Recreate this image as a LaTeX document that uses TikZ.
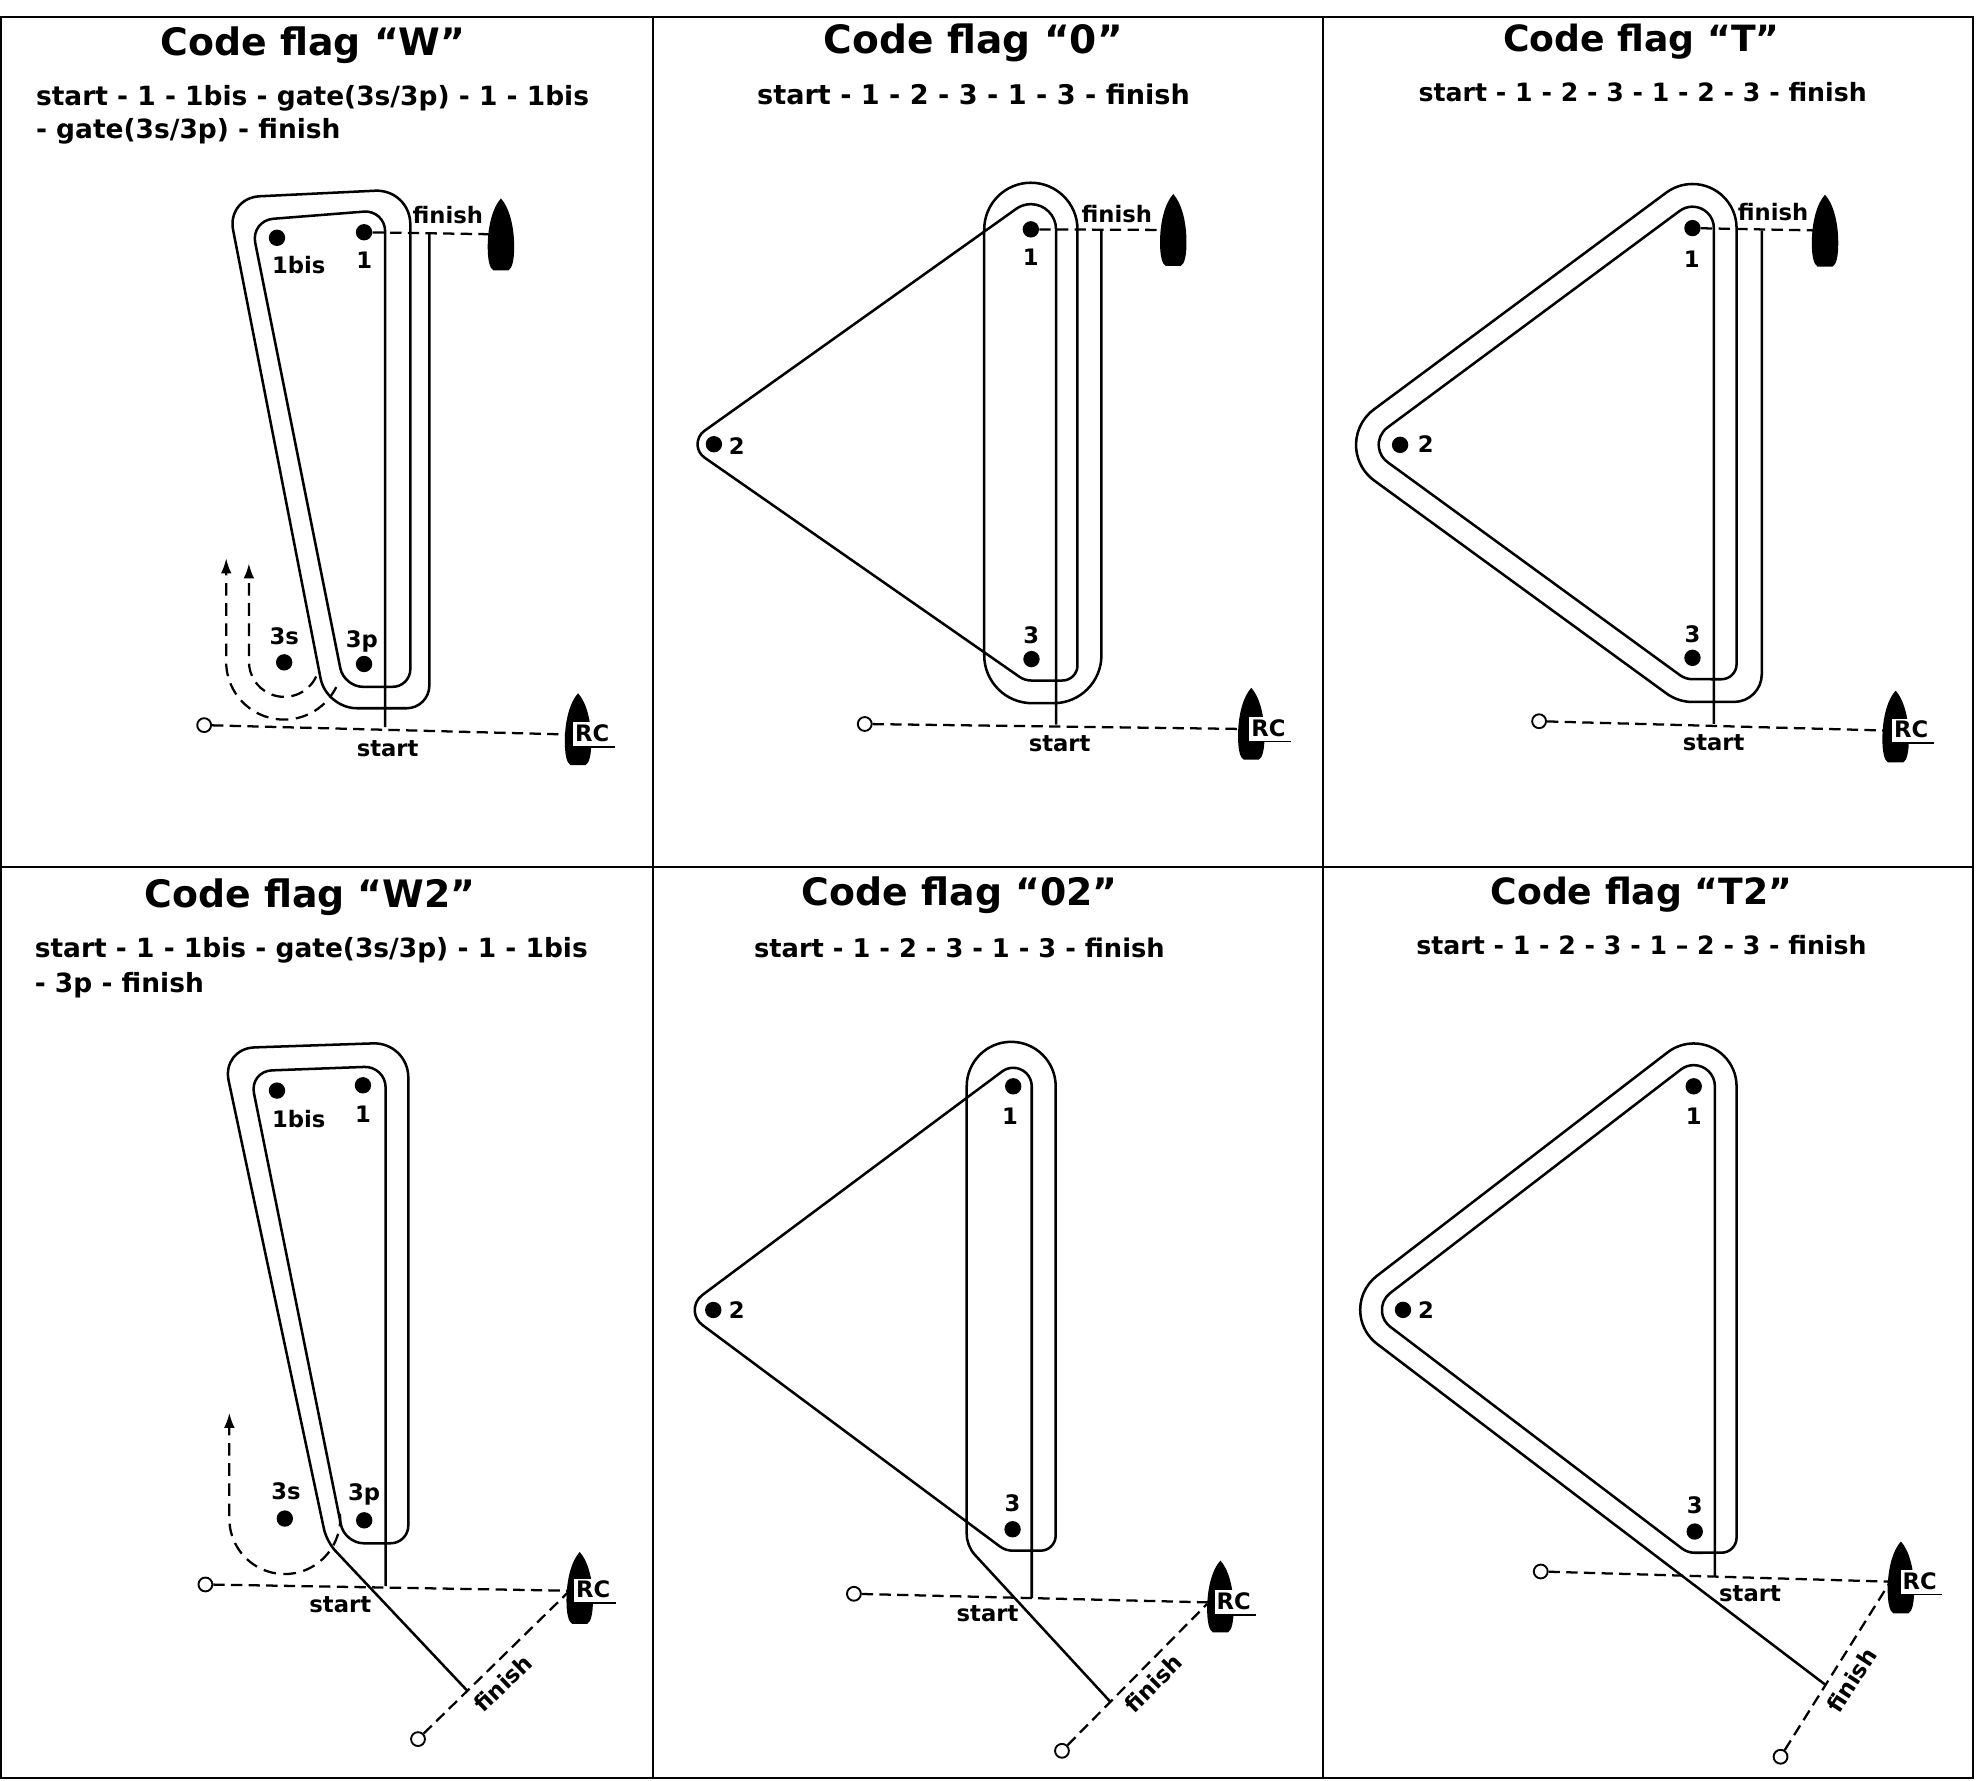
\documentclass[tikz,border=0pt]{standalone}
\usepackage{fontspec}
\setmainfont{DejaVu Sans}
\usetikzlibrary{arrows.meta}
\begin{document}
\begin{tikzpicture}[x=1pt,y=-1pt,>={Latex[length=12pt,width=8.5pt]},
	course/.style={line width=2pt},
	dashline/.style={line width=1.8pt,dash pattern=on 9pt off 5pt},
	gate/.style={line width=1.8pt,dash pattern=on 10pt off 6pt},
	markdot/.style={circle,fill,inner sep=0pt,minimum size=13pt},
	buoy/.style={circle,draw,line width=1.5pt,fill=white,inner sep=0pt,minimum size=11pt},
	ttl/.style={font=\fontsize{#1}{#1}\selectfont\bfseries,anchor=base,inner sep=0pt},
	ttl/.default=30,
	seq/.style={font=\fontsize{#1}{#1}\selectfont\bfseries,inner sep=0pt},
	seq/.default=20,
	lbl/.style={font=\fontsize{18}{22}\selectfont\bfseries,anchor=base,inner sep=0pt},
	rc/.style={lbl,fill=white,inner sep=2pt,text depth=2pt,anchor=base west},
	boat/.pic={\fill (0,-28.5) .. controls (6,-22) and (10.5,-8) .. (10.5,10) .. controls (10.5,20) and (9,27) .. (6,28.5) -- (-6,28.5) .. controls (-9,27) and (-10.5,20) .. (-10.5,10) .. controls (-10.5,-8) and (-6,-22) .. (0,-28.5) -- cycle;}]
	\useasboundingbox (0,0) rectangle (1568,1413);
	\draw[line width=1.3pt] (1,13.5) rectangle (1565.5,1411);
	\draw[line width=1.3pt] (518,13.5) -- (518,1411);
	\draw[line width=1.3pt] (1050,13.5) -- (1050,1411);
	\draw[line width=1.3pt] (1,688) -- (1565.5,688);
	%
	\node[ttl] (tW) at (248.5,44.1) {Code flag “W”};
	\node[seq=21,anchor=base west] (s1W) at (28.4,83.8) {start - 1 - 1bis - gate(3s/3p) - 1 - 1bis};
	\node[seq=21,anchor=base west] (s2W) at (28.4,110.2) {- gate(3s/3p) - finish};
	\coordinate (fbW) at (397.5,186);
	\coordinate (bW) at (458.7,578.6);
	\pic at (fbW) {boat};
	\pic at (bW) {boat};
	\node[markdot] (m1bW) at (219.8,188.7) {};
	\node[markdot] (m1W) at (288.9,184.3) {};
	\node[markdot] (m3sW) at (225.5,525.6) {};
	\node[markdot] (m3pW) at (288.9,526.9) {};
	\node[buoy] (sbW) at (162,575.4) {};
	\node[rc] (rcW) at (454.2,588.6) {RC};
	\node[lbl] at (237.1,217) {1bis};
	\node[lbl] at (289,213) {1};
	\node[lbl] at (225.5,511.5) {3s};
	\node[lbl] at (287.2,513.7) {3p};
	\node[lbl] at (355.4,177.7) {finish};
	\node[lbl] at (307.6,600.5) {start};
	\draw[course] (305.6,577) [rounded corners=17pt] -- (305.6,166.6) [rounded corners=18pt] -- (199,175) [rounded corners=15pt] -- (273,545) [rounded corners=14pt] -- (325.6,545) [rounded corners=28pt] -- (325.6,150) [rounded corners=26pt] -- (180,157) [rounded corners=24pt] -- (259,562) [rounded corners=18pt] -- (340.7,562) -- (340.7,185);
	\draw[dashline] (sbW) -- (rcW.west);
	\draw[dashline] (m1W) -- (fbW);
	\draw[gate,->] (250.9,536.8) arc (25:180:28) -- (197.5,447);
	\draw[gate,->] (266.8,545.2) arc (26:180:46) -- (179.5,443);
	\draw[line width=1.3pt] (rcW.north west) -- (rcW.south west) -- ([xshift=2pt]rcW.south east);
	%
	\node[ttl=31] (tO) at (772.3,42.8) {Code flag “0”};
	\node[seq=21.5,anchor=base] (sO) at (772.5,82.9) {start - 1 - 2 - 3 - 1 - 3 - finish};
	\coordinate (fbO) at (931,182.5);
	\coordinate (bO) at (992.9,574.3);
	\pic at (fbO) {boat};
	\pic at (bO) {boat};
	\node[markdot] (m1O) at (818,182) {};
	\node[markdot] (m2O) at (566.5,352.5) {};
	\node[markdot] (m3O) at (818.5,523) {};
	\node[buoy] (sbO) at (686.2,574.5) {};
	\node[rc] (rcO) at (990.8,584.2) {RC};
	\node[lbl] at (818,210.8) {1};
	\node[lbl] at (584.7,360.7) {2};
	\node[lbl] at (818.4,510.6) {3};
	\node[lbl] at (886.2,176.4) {finish};
	\node[lbl] at (840.8,596.1) {start};
	\draw[course] (838,575) -- (838,182) arc (0:-124.13:20) -- (559.2,341.7) arc (235.87:124.08:13) -- (809,537.1) arc (124.08:90:17) -- (843,540) arc (90:0:12) -- (855,182) arc (0:-180:37) -- (781,520) arc (180:90:38) -- (836,558) arc (90:0:38) -- (874,183);
	\draw[dashline] (sbO) -- (rcO.west);
	\draw[dashline] (m1O) -- (fbO);
	\draw[line width=1.3pt] (rcO.north west) -- (rcO.south west) -- ([xshift=2pt]rcO.south east);
	%
	\node[ttl=28.7] (tT) at (1302.5,41) {Code flag “T”};
	\node[seq,anchor=base] (sT) at (1303.5,80.2) {start - 1 - 2 - 3 - 1 - 2 - 3 - finish};
	\coordinate (fbT) at (1448.2,183);
	\coordinate (bT) at (1504.2,576.5);
	\pic at (fbT) {boat};
	\pic at (bT) {boat};
	\node[markdot] (m1T) at (1343,181) {};
	\node[markdot] (m2T) at (1111,353) {};
	\node[markdot] (m3T) at (1343,522) {};
	\node[buoy] (sbT) at (1221.3,572.3) {};
	\node[rc] (rcT) at (1500.9,585.5) {RC};
	\node[lbl] at (1342.5,212.5) {1};
	\node[lbl] at (1131.3,359.3) {2};
	\node[lbl] at (1343.1,510.1) {3};
	\node[lbl] at (1406.9,175) {finish};
	\node[lbl] at (1359.8,595.2) {start};
	\draw[course] (1360,574.4) -- (1360,181) arc (0:-126.55:17) -- (1100.9,339.3) arc (233.45:126.08:17) -- (1333,535.7) arc (126.08:90:17) -- (1366,539) arc (90:0:12) -- (1378,181) arc (0:-126.55:35) -- (1090.2,324.9) arc (233.45:126.08:35) -- (1322.4,550.3) arc (126.08:90:35) -- (1376,557) arc (90:0:22) -- (1398,183);
	\draw[dashline] (sbT) -- (rcT.west);
	\draw[dashline] (m1T) -- (fbT);
	\draw[line width=1.3pt] (rcT.north west) -- (rcT.south west) -- ([xshift=2pt]rcT.south east);
	%
	\node[ttl] (tW2) at (246,719.8) {Code flag “W2”};
	\node[seq=21,anchor=base west] (s1W2) at (27.4,759.5) {start - 1 - 1bis - gate(3s/3p) - 1 - 1bis};
	\node[seq=21,anchor=base west] (s2W2) at (27.4,787.5) {- 3p - finish};
	\coordinate (bW2) at (460,1260);
	\coordinate (fW2) at (451,1263.3);
	\pic at (bW2) {boat};
	\node[markdot] (m1bW2) at (219.8,865.4) {};
	\node[markdot] (m1W2) at (288,861.2) {};
	\node[markdot] (m3sW2) at (226,1205) {};
	\node[markdot] (m3pW2) at (289,1206.4) {};
	\node[buoy] (sbW2) at (163,1257.3) {};
	\node[buoy] (fnW2) at (331.7,1380) {};
	\node[rc] (rcW2) at (455,1268) {RC};
	\node[lbl] at (237.1,894.8) {1bis};
	\node[lbl] at (288,890.6) {1};
	\node[lbl] at (227,1189.6) {3s};
	\node[lbl] at (289,1191) {3p};
	\node[lbl] at (270,1279.7) {start};
	\node[lbl,anchor=center,rotate=44] at (399.1,1335.6) {finish};
	\draw[course] (306,1258.6) [rounded corners=17pt] -- (306,846) [rounded corners=18pt] -- (198,850) [rounded corners=15pt] -- (273.5,1224.6) [rounded corners=14pt] -- (324,1224.6) [rounded corners=28pt] -- (324,827) [rounded corners=26pt] -- (176,832) [rounded corners=10pt] -- (259.2,1223.3) -- (370.7,1341.5);
	\draw[dashline] (sbW2) -- (rcW2.west);
	\draw[dashline] (fnW2) -- (fW2);
	\draw[gate,->] (269.8,1201.2) arc (-5:180:44) -- (182,1121);
	\draw[line width=1.3pt] (rcW2.north west) -- (rcW2.south west) -- ([xshift=2pt]rcW2.south east);
	%
	\node[ttl] (tO2) at (761.6,718.9) {Code flag “02”};
	\node[seq=20.4,anchor=base] (sO2) at (761.3,759.5) {start - 1 - 2 - 3 - 1 - 3 - finish};
	\coordinate (bO2) at (968.4,1266.8);
	\coordinate (fO2) at (957.9,1272.7);
	\pic at (bO2) {boat};
	\node[markdot] (m1O2) at (804,862) {};
	\node[markdot] (m2O2) at (566,1039.5) {};
	\node[markdot] (m3O2) at (803.5,1213.5) {};
	\node[buoy] (sbO2) at (677.6,1264.7) {};
	\node[buoy] (fnO2) at (842.7,1389.3) {};
	\node[rc] (rcO2) at (963.3,1277.3) {RC};
	\node[lbl] at (801.5,892.4) {1};
	\node[lbl] at (584.7,1046.4) {2};
	\node[lbl] at (803.4,1199) {3};
	\node[lbl] at (783.6,1286.7) {start};
	\node[lbl,anchor=center,rotate=45] at (915.1,1335.6) {finish};
	\draw[course] (818.7,1268.2) -- (818.7,862) arc (0:-126.72:14.7) -- (557.2,1027.7) arc (233.28:126.23:14.7) -- (793.5,1227.2) arc (126.23:90:17) -- (825.7,1230.5) arc (90:0:12) -- (837.7,862) arc (0:-180:35.3) -- (767.1,1217) arc (180:137.3:25) -- (881.1,1350.4);
	\draw[dashline] (sbO2) -- (rcO2.west);
	\draw[dashline] (fnO2) -- (fO2);
	\draw[line width=1.3pt] (rcO2.north west) -- (rcO2.south west) -- ([xshift=2pt]rcO2.south east);
	%
	\node[ttl=28.7] (tT2) at (1302.5,717.5) {Code flag “T2”};
	\node[seq,anchor=base] (sT2) at (1302.5,757.1) {start - 1 - 2 - 3 - 1 -- 2 - 3 - finish};
	\coordinate (bT2) at (1508.4,1251.7);
	\coordinate (fT2) at (1499.2,1256.3);
	\pic at (bT2) {boat};
	\node[markdot] (m1T2) at (1344,862) {};
	\node[markdot] (m2T2) at (1113.3,1039.4) {};
	\node[markdot] (m3T2) at (1344.8,1215.3) {};
	\node[buoy] (sbT2) at (1222.6,1247) {};
	\node[buoy] (fnT2) at (1412.9,1394) {};
	\node[rc] (rcT2) at (1507.5,1261) {RC};
	\node[lbl] at (1344.1,892.4) {1};
	\node[lbl] at (1131.6,1046.4) {2};
	\node[lbl] at (1344.8,1201.3) {3};
	\node[lbl] at (1388.7,1271.2) {start};
	\node[lbl,anchor=center,rotate=57] at (1469.3,1333.3) {finish};
	\draw[course] (1360.8,1251.1) -- (1360.8,862) arc (0:-127.56:16.8) -- (1103.1,1026.1) arc (232.44:127.23:16.8) -- (1334.6,1228.7) arc (127.23:90:16.8) -- (1366,1232.1) arc (90:0:12) -- (1378,862) arc (0:-127.56:34) -- (1092.6,1012.4) arc (232.44:127.23:34) -- (1448.6,1337);
	\draw[dashline] (sbT2) -- (rcT2.west);
	\draw[dashline] (fnT2) -- (fT2);
	\draw[line width=1.3pt] (rcT2.north west) -- (rcT2.south west) -- ([xshift=2pt]rcT2.south east);
\end{tikzpicture}
\end{document}
